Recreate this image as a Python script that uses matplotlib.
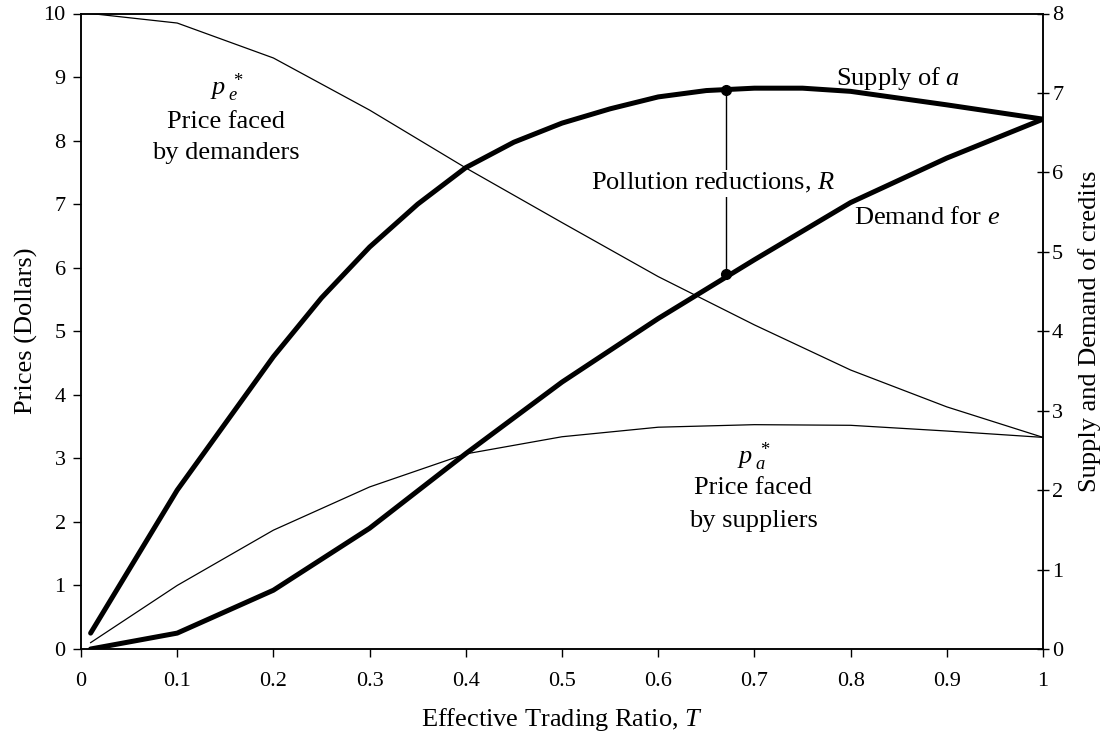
import matplotlib
matplotlib.use("Agg")
import matplotlib.pyplot as plt

plt.rcParams['font.family'] = ['Liberation Serif', 'DejaVu Serif']
plt.rcParams['mathtext.fontset'] = 'custom'
plt.rcParams['mathtext.rm'] = 'Liberation Serif'
plt.rcParams['mathtext.it'] = 'Liberation Serif:italic'

# ---- data ----
T = [0.01, 0.1, 0.2, 0.3, 0.4, 0.5, 0.6, 0.7, 0.8, 0.9, 1.0]
# prices (left axis, dollars)
price_e = [10.0, 9.85, 9.3, 8.48, 7.57, 6.71, 5.86, 5.1, 4.39, 3.81, 3.33]
price_a = [0.1, 1.0, 1.87, 2.55, 3.07, 3.34, 3.49, 3.53, 3.52, 3.43, 3.33]
# credits (right axis)
T_supply = [0.01, 0.1, 0.2, 0.25, 0.3, 0.35, 0.4, 0.45, 0.5, 0.55, 0.6, 0.65, 0.7, 0.75, 0.8, 0.9, 1.0]
supply_a = [0.2, 2.0, 3.68, 4.42, 5.06, 5.6, 6.06, 6.38, 6.62, 6.8, 6.95, 7.03, 7.06, 7.06, 7.02, 6.85, 6.67]
demand_e = [0.0, 0.2, 0.74, 1.52, 2.46, 3.36, 4.16, 4.9, 5.62, 6.18, 6.67]
# pollution reduction marker
r_T = 0.67
r_top = 7.04
r_bottom = 4.72

x_ticks = [0, 0.1, 0.2, 0.3, 0.4, 0.5, 0.6, 0.7, 0.8, 0.9, 1]
x_ticklabels = ['0', '0.1', '0.2', '0.3', '0.4', '0.5', '0.6', '0.7', '0.8', '0.9', '1']
left_ticks = list(range(0, 11))
right_ticks = list(range(0, 9))

fig = plt.figure(figsize=(11.1, 7.36), dpi=100)
ax = fig.add_axes([81/1110, 1 - 649/736, (1043-81)/1110, (649-13.5)/736])
ax2 = ax.twinx()

thin = 0.9
thick = 3.6
ax.plot(T, price_e, color='black', lw=thin, zorder=3)
ax.plot(T, price_a, color='black', lw=thin, zorder=3)
ax2.plot(T_supply, supply_a, color='black', lw=thick, solid_capstyle='round', solid_joinstyle='round', zorder=3)
ax2.plot(T, demand_e, color='black', lw=thick, solid_capstyle='round', solid_joinstyle='round', zorder=3)
ax2.plot([r_T, r_T], [r_bottom, r_top], color='black', lw=1.0, marker='o', markersize=7, zorder=4)

ax.set_xlim(0, 1)
ax.set_ylim(0, 10)
ax2.set_ylim(0, 8)
ax.set_xticks(x_ticks)
ax.set_xticklabels(x_ticklabels)
ax.set_yticks(left_ticks)
ax2.set_yticks(right_ticks)

ax.tick_params(axis='y', direction='out', length=6, width=1.0, labelsize=16, pad=5)
ax.tick_params(axis='x', direction='out', length=5.5, width=1.0, labelsize=16, pad=11)
ax2.tick_params(axis='y', direction='inout', length=9, width=1.0, labelsize=16, pad=2)
for a in (ax, ax2):
    for s in a.spines.values():
        s.set_linewidth(1.1)
        s.set_color('black')

ax.set_xlabel(r'Effective Trading Ratio, $\mathit{T}$', fontsize=19, labelpad=11)
ax.set_ylabel('Prices (Dollars)', fontsize=19, labelpad=4)
ax2.set_ylabel('Supply and Demand of credits', fontsize=19, labelpad=11)

fs = 19
# labels (left-axis coordinates)
ax.text(0.151, 8.83, r'$p\,_e^{\,*}$', fontsize=fs, ha='center', va='center')
ax.text(0.151, 8.30, 'Price faced', fontsize=fs, ha='center', va='center')
ax.text(0.151, 7.80, 'by demanders', fontsize=fs, ha='center', va='center')

ax.text(0.699, 3.02, r'$p\,_a^{\,*}$', fontsize=fs, ha='center', va='center')
ax.text(0.699, 2.53, 'Price faced', fontsize=fs, ha='center', va='center')
ax.text(0.699, 2.01, 'by suppliers', fontsize=fs, ha='center', va='center')

ax.text(0.657, 7.33, r'Pollution reductions, $\mathit{R}$', fontsize=fs, ha='center', va='center',
        zorder=10, bbox=dict(facecolor='white', edgecolor='none', pad=1))
ax2.text(0.849, 7.18, r'Supply of $\mathit{a}$', fontsize=fs, ha='center', va='center')
ax2.text(0.88, 5.42, r'Demand for $\mathit{e}$', fontsize=fs, ha='center', va='center')

ax.set_zorder(ax2.get_zorder() + 1)
ax.patch.set_visible(False)

fig.savefig('out.png', dpi=100)
